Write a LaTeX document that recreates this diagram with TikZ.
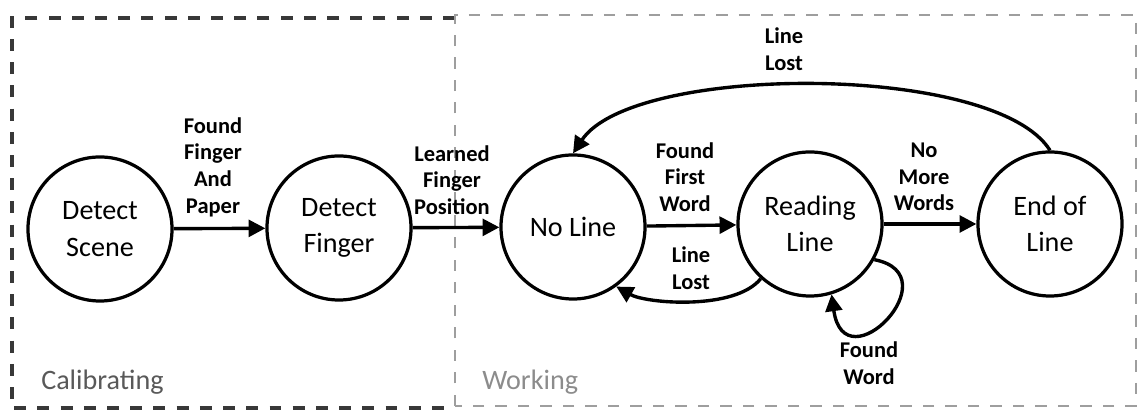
\documentclass[tikz,border=0pt]{standalone}
\usepackage{fontspec}
\setmainfont{Carlito}
\usepackage{tikz}
\usetikzlibrary{arrows.meta}

\begin{document}
\begin{tikzpicture}[x=0.025cm, y=0.025cm,
  state/.style={draw, circle, line width=2.3pt, minimum size=3.6cm, inner sep=0pt, align=center, font=\fontsize{20}{26}\selectfont},
  lbl/.style={align=center, font=\fontsize{16}{19}\selectfont\bfseries, inner sep=0pt},
  trans/.style={line width=2.4pt, -{Triangle[length=4.2mm, width=4.2mm]}},
  grouplbl/.style={anchor=base west, font=\fontsize{20}{24}\selectfont, inner sep=0pt}]
  \useasboundingbox (0,0) rectangle (1138,411);
  % groups
  \draw[black!78, line width=2.2pt, dash pattern=on 8.5pt off 8pt] (455,393) -- (12,393) -- (12,3) -- (455,3);
  \draw[black!38, line width=1pt, dash pattern=on 8pt off 8pt] (455,5) rectangle (1136,396);
  \node[grouplbl, text=black!65] (calib) at (41,21) {Calibrating};
  \node[grouplbl, text=black!45] (work) at (482,21) {Working};
  % states
  \node[state] (scene) at (100,182) {Detect\\Scene};
  \node[state] (finger) at (339,183) {Detect\\Finger};
  \node[state] (noline) at (573,184) {No Line};
  \node[state] (read) at (810,187) {Reading\\Line};
  \node[state] (eol) at (1050,187) {End of\\Line};
  % transitions
  \draw[trans] (scene) -- (finger);
  \draw[trans] (finger) -- (noline);
  \draw[trans] (noline) -- (read);
  \draw[trans] (read) -- (eol);
  \draw[trans] (eol.north) .. controls +(-55,88) and +(60,90) .. (noline.north);
  \draw[trans] (read.-132) .. controls +(-26,-32) and +(30,-17) .. (noline.-54);
  \draw[trans] (read.-29) .. controls +(78,-15) and +(13,-92) .. (read.-73);
  % labels
  \node[lbl] (paperlbl) at (213,244) {Found\\Finger\\And\\Paper};
  \node[lbl] (learnlbl) at (452,231) {Learned\\Finger\\Position};
  \node[lbl] (firstlbl) at (685,234) {Found\\First\\Word};
  \node[lbl] (lostlbl) at (691,143) {Line\\Lost};
  \node[lbl] (nomorelbl) at (924,234) {No\\More\\Words};
  \node[lbl] (toplostlbl) at (784,362) {Line\\Lost};
  \node[lbl] (wordlbl) at (869,48) {Found\\Word};
\end{tikzpicture}
\end{document}
